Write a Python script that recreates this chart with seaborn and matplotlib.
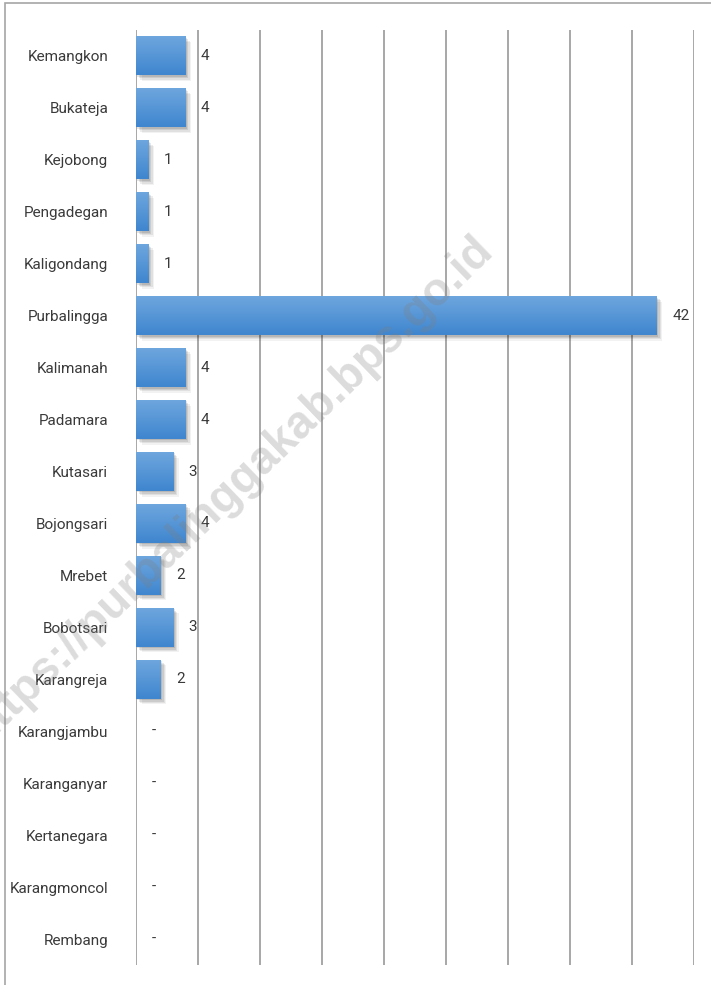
import numpy as np
import pandas as pd
import seaborn as sns
import matplotlib.pyplot as plt
import matplotlib.patheffects as pe
from matplotlib.colors import LinearSegmentedColormap
from matplotlib.patches import Rectangle

# data, top to bottom as in the reference
kecamatan = ["Kemangkon", "Bukateja", "Kejobong", "Pengadegan", "Kaligondang",
             "Purbalingga", "Kalimanah", "Padamara", "Kutasari", "Bojongsari",
             "Mrebet", "Bobotsari", "Karangreja", "Karangjambu", "Karanganyar",
             "Kertanegara", "Karangmoncol", "Rembang"]
jumlah = [4, 4, 1, 1, 1, 42, 4, 4, 3, 4, 2, 3, 2, 0, 0, 0, 0, 0]

df = pd.DataFrame({"kecamatan": kecamatan, "jumlah": jumlah})

sns.set_theme(style="white")
plt.rcParams["font.family"] = ["Roboto", "DejaVu Sans"]

fig = plt.figure(figsize=(7.11, 9.85), dpi=100)
ax = fig.add_axes([136 / 711, 20 / 985, 558 / 711, 935 / 985])

# outer frame (only left and top edges fall inside the picture)
fig.patches.append(Rectangle((5 / 711, -0.1), 1.2, 1.1 - 3 / 985, transform=fig.transFigure,
                             fill=False, edgecolor="#a6a6a6", linewidth=1.2))

sns.barplot(data=df, x="jumlah", y="kecamatan", orient="h", color="#4a8fd8",
            width=0.75, linewidth=0, ax=ax, zorder=3)

ax.set_xlim(0, 45)
ax.set_xticks(np.arange(0, 46, 5))
ax.set_xticklabels([])
ax.xaxis.grid(True, color="#a0a0a0", linewidth=1.3, zorder=0)
ax.yaxis.grid(False)
for s in ax.spines.values():
    s.set_visible(False)
ax.tick_params(axis="y", length=0, pad=20, labelsize=11, labelcolor="#3a3a3a")
ax.tick_params(axis="x", length=0)
ax.set_xlabel("")
ax.set_ylabel("")

# gradient fill + soft shadow on each bar
grad = np.linspace(0, 1, 50).reshape(-1, 1)
cmap = LinearSegmentedColormap.from_list("bar", ["#6ea6de", "#3f86cf"])
shadow = [pe.SimplePatchShadow(offset=(o, -o), shadow_rgbFace="#000000", alpha=a)
          for o, a in [(4, 0.05), (3, 0.07), (2, 0.09), (1, 0.1)]]
for p in ax.patches:
    w = p.get_width()
    if w <= 0:
        p.set_visible(False)
        continue
    p.set_path_effects(shadow + [pe.Normal()])
    x0, y0 = p.get_x(), p.get_y()
    h = p.get_height()
    ax.imshow(grad, extent=(x0, x0 + w, y0 + h, y0), origin="upper", cmap=cmap,
              aspect="auto", zorder=4)
ax.set_ylim(len(kecamatan) - 0.5, -0.5)

# value labels
for i, v in enumerate(jumlah):
    txt = str(v) if v > 0 else "-"
    ax.annotate(txt, (v, i), xytext=(11, 0), textcoords="offset points",
                ha="left", va="center", fontsize=11, color="#3a3a3a", zorder=5)

# watermark
fig.text(230 / 711, 1 - 490 / 985, "https://purbalinggakab.bps.go.id", rotation=44,
         ha="center", va="center", fontsize=33, fontweight="bold",
         family="Liberation Sans", color="#808080", alpha=0.28, zorder=10)

fig.savefig("out.png", dpi=100)
